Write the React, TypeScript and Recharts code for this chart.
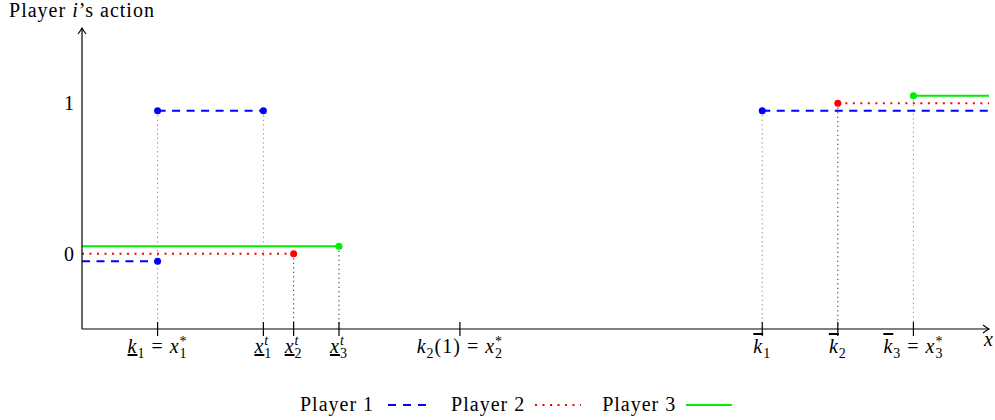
import React from 'react';
import { ComposedChart, Line, Scatter, XAxis, YAxis, ReferenceLine } from 'recharts';

// tick positions on the x axis and their labels
const xTicks = [1, 2.4, 2.8, 3.4, 5, 9, 10, 11];
const xTickLabels = [
  { v: 'k', mark: 'under', sub: '1', eq: { v: 'x', sub: '1', sup: '*' } },
  { v: 'x', mark: 'under', sub: '1', sup: 't' },
  { v: 'x', mark: 'under', sub: '2', sup: 't' },
  { v: 'x', mark: 'under', sub: '3', sup: 't' },
  { v: 'k', sub: '2', after: '(1)', eq: { v: 'x', sub: '2', sup: '*' } },
  { v: 'k', mark: 'bar', sub: '1' },
  { v: 'k', mark: 'bar', sub: '2' },
  { v: 'k', mark: 'bar', sub: '3', eq: { v: 'x', sub: '3', sup: '*' } },
];
const yTicks = [0, 1];

// step segments per player
const player1Segments = [
  [{ x: 0, y: -0.05 }, { x: 1, y: -0.05 }],
  [{ x: 1, y: 0.95 }, { x: 2.4, y: 0.95 }],
  [{ x: 9, y: 0.95 }, { x: 12, y: 0.95 }],
];
const player2Segments = [
  [{ x: 0, y: 0 }, { x: 2.8, y: 0 }],
  [{ x: 10, y: 1 }, { x: 12, y: 1 }],
];
const player3Segments = [
  [{ x: 0, y: 0.05 }, { x: 3.4, y: 0.05 }],
  [{ x: 11, y: 1.05 }, { x: 12, y: 1.05 }],
];

// filled endpoints
const player1Dots = [{ x: 1, y: -0.05 }, { x: 1, y: 0.95 }, { x: 2.4, y: 0.95 }, { x: 9, y: 0.95 }];
const player2Dots = [{ x: 2.8, y: 0 }, { x: 10, y: 1 }];
const player3Dots = [{ x: 3.4, y: 0.05 }, { x: 11, y: 1.05 }];

// vertical guides down to the axis
const grayGuides = [{ x: 1, top: 0.95 }, { x: 2.4, top: 0.95 }, { x: 9, top: 0.95 }, { x: 11, top: 1.05 }];
const blackGuides = [{ x: 2.8, top: 0 }, { x: 3.4, top: 0.05 }, { x: 10, top: 1 }];

const legendNames = ['Player 1', 'Player 2', 'Player 3'];

const FONT = '"Liberation Serif", "DejaVu Serif", serif';
const BLUE = '#0000ff';
const RED = '#ff0000';
const GREEN = '#00ee00';
const Y_MIN = -0.5;

const renderMath = (p: any, key: string) => {
  const out: any[] = [];
  let shift = 0;
  const move = (to: number) => {
    const d = to - shift;
    shift = to;
    return d;
  };
  const deco = p.mark === 'under' ? 'underline' : p.mark === 'bar' ? 'overline' : undefined;
  out.push(
    <tspan key={key + 'v'} fontStyle="italic" textDecoration={deco}>
      {p.v}
    </tspan>
  );
  if (p.sub) {
    out.push(
      <tspan key={key + 's'} fontSize={14} dy={move(5)}>
        {p.sub}
      </tspan>
    );
  }
  if (p.sup) {
    const raise = p.sup === '*' ? -7 : -8;
    out.push(
      <tspan key={key + 'p'} fontSize={14} dx={p.sub ? -8 : 0} dy={move(raise)} fontStyle={p.sup === 't' ? 'italic' : undefined}>
        {p.sup}
      </tspan>
    );
  }
  if (p.after) {
    out.push(
      <tspan key={key + 'a'} dy={move(0)}>
        {p.after}
      </tspan>
    );
  }
  if (p.eq) {
    out.push(
      <tspan key={key + 'e'} dy={move(0)}>
        {' = '}
      </tspan>
    );
    out.push(...renderMath(p.eq, key + 'q'));
  }
  return out;
};

const XTick = (props: any) => {
  const { x, y, payload } = props;
  const label = xTickLabels[xTicks.indexOf(payload.value)];
  return (
    <g>
      <line x1={x} x2={x} y1={y - 7} y2={y + 7} stroke="#000" strokeWidth={1.2} />
      {label && (
        <text x={x} y={y + 24} textAnchor="middle" fontFamily={FONT} fontSize={20} letterSpacing={1} fill="#000">
          {renderMath(label, 't')}
        </text>
      )}
    </g>
  );
};

const Dot = (color: string) => (props: any) => <circle cx={props.cx} cy={props.cy} r={3.5} fill={color} />;

const LegendSample = ({ color, dash, offset }: { color: string; dash?: string; offset?: number }) => (
  <svg width={46} height={10} style={{ display: 'block' }}>
    <line x1={0} x2={46} y1={5} y2={5} stroke={color} strokeWidth={2} strokeDasharray={dash} strokeDashoffset={offset} />
  </svg>
);

const App: React.FC = () => {
  const segLine = (segments: any[], color: string, dash: string | undefined, name: string) =>
    segments.map((seg, i) => (
      <Line
        key={name + i}
        data={seg}
        dataKey="y"
        type="linear"
        stroke={color}
        strokeWidth={2}
        strokeDasharray={dash}
        dot={false}
        activeDot={false}
        isAnimationActive={false}
      />
    ));

  const legendItems = [
    { name: legendNames[0], color: BLUE, dash: '8 7', offset: -4 },
    { name: legendNames[1], color: RED, dash: '2 5.5', offset: 0 },
    { name: legendNames[2], color: GREEN, dash: undefined, offset: 0 },
  ];

  return (
    <div style={{ position: 'absolute', left: 0, top: 0, width: 995, height: 420, background: '#fff' }}>
      <ComposedChart width={995} height={420} margin={{ top: 28, right: 6, left: 0, bottom: 61 }}>
        <defs>
          <marker id="axisArrow" markerWidth={12} markerHeight={12} refX={10} refY={6} orient="auto-start-reverse" markerUnits="userSpaceOnUse">
            <path d="M4,2 Q8,5 10,6 Q8,7 4,10" fill="none" stroke="#000" strokeWidth={1.1} />
          </marker>
        </defs>
        <XAxis
          type="number"
          dataKey="x"
          domain={[0, 12]}
          ticks={xTicks}
          interval={0}
          height={30}
          tickSize={0}
          tickMargin={0}
          tickLine={false}
          tick={<XTick />}
          axisLine={{ stroke: '#000', strokeWidth: 1.2, markerEnd: 'url(#axisArrow)' }}
          label={(lp: any) => {
            const vb = lp.viewBox || {};
            return (
              <text x={(vb.x || 0) + (vb.width || 0) - 5} y={(vb.y || 0) + 17} fontFamily={FONT} fontSize={20} fontStyle="italic" fill="#000">
                x
              </text>
            );
          }}
        />
        <YAxis
          type="number"
          dataKey="y"
          domain={[Y_MIN, 1.5]}
          ticks={yTicks}
          interval={0}
          width={82}
          tickLine={false}
          tick={{ fill: '#000', fontSize: 20, fontFamily: FONT }}
          axisLine={{ stroke: '#000', strokeWidth: 1.2, markerStart: 'url(#axisArrow)' }}
          label={(lp: any) => {
            const vb = lp.viewBox || {};
            return (
              <text x={(vb.x || 0) + (vb.width || 0)} y={(vb.y || 0) - 11} textAnchor="middle" fontFamily={FONT} fontSize={20} letterSpacing={1} fill="#000">
                Player <tspan fontStyle="italic">i</tspan>’s action
              </text>
            );
          }}
        />
        {grayGuides.map((g) => (
          <ReferenceLine
            key={'g' + g.x}
            segment={[{ x: g.x, y: g.top }, { x: g.x, y: Y_MIN }]}
            stroke="#888"
            strokeWidth={1}
            strokeDasharray="1.2 3.3"
          />
        ))}
        {blackGuides.map((g) => (
          <ReferenceLine
            key={'b' + g.x}
            segment={[{ x: g.x, y: g.top }, { x: g.x, y: Y_MIN }]}
            stroke="#222"
            strokeWidth={1}
            strokeDasharray="1.2 3.3"
          />
        ))}
        {segLine(player3Segments, GREEN, undefined, 'p3')}
        {segLine(player2Segments, RED, '2 5.5', 'p2')}
        {segLine(player1Segments, BLUE, '8 6.5', 'p1')}
        <Scatter data={player3Dots} dataKey="y" shape={Dot(GREEN)} isAnimationActive={false} />
        <Scatter data={player2Dots} dataKey="y" shape={Dot(RED)} isAnimationActive={false} />
        <Scatter data={player1Dots} dataKey="y" shape={Dot(BLUE)} isAnimationActive={false} />
      </ComposedChart>
      <div
        style={{
          position: 'absolute',
          left: 300,
          top: 393,
          display: 'flex',
          alignItems: 'center',
          fontFamily: FONT,
          fontSize: 20,
          letterSpacing: 1,
          color: '#000',
          whiteSpace: 'nowrap',
        }}
      >
        {legendItems.map((item, i) => (
          <React.Fragment key={item.name}>
            <span style={{ marginLeft: i === 0 ? 0 : 21 }}>{item.name}</span>
            <span style={{ marginLeft: 10 }}>
              <LegendSample color={item.color} dash={item.dash} offset={item.offset} />
            </span>
          </React.Fragment>
        ))}
      </div>
    </div>
  );
};

export default App;
